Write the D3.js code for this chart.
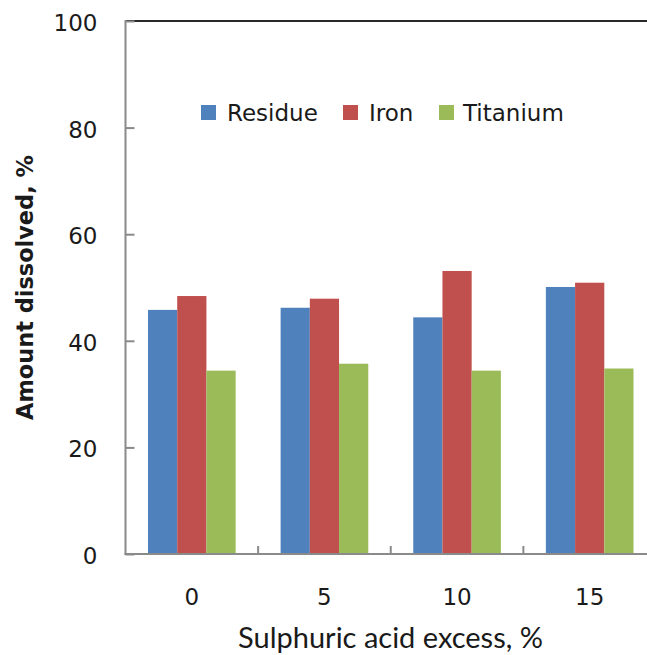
<!DOCTYPE html>
<html>
<head>
<meta charset="utf-8">
<script src="https://cdn.jsdelivr.net/npm/d3@7"></script>
<style>
  html, body { margin: 0; padding: 0; background: #fff; }
  svg { display: block; }
</style>
</head>
<body>
<svg id="chart" width="647" height="655"></svg>
<script>
// Sulphuric acid excess levels (x categories)
const categories = ["0", "5", "10", "15"];
// Series of dissolved amounts, %
const seriesNames = ["Residue", "Iron", "Titanium"];
const residue  = [45.8, 46.2, 44.4, 50.1];
const iron     = [48.4, 47.9, 53.1, 50.9];
const titanium = [34.4, 35.7, 34.4, 34.8];
const yTicks = [0, 20, 40, 60, 80, 100];

const seriesValues = [residue, iron, titanium];
const colors = ["#4F81BD", "#C0504D", "#9BBB59"];

const svg = d3.select("#chart");
const plot = { left: 125.5, top: 21, right: 656, bottom: 554 };

const x = d3.scaleBand().domain(categories).range([plot.left, plot.right]).padding(0);
const xSub = d3.scaleBand().domain(seriesNames).range([0, x.bandwidth()])
  .paddingInner(0).paddingOuter(0.77);
const y = d3.scaleLinear().domain([0, 100]).range([plot.bottom, plot.top]);

const axisGray = "#8a8a8a";
const textColor = "#1a1a1a";
const font = "'DejaVu Sans', Verdana, sans-serif";

// Plot-area frame (top and right edges)
svg.append("path")
  .attr("d", `M${plot.left},${plot.top}H${plot.right}V${plot.bottom}`)
  .attr("fill", "none").attr("stroke", "#2a2a2a").attr("stroke-width", 2);

// Bars
const groups = svg.append("g").selectAll("g")
  .data(categories)
  .join("g")
  .attr("transform", d => `translate(${x(d)},0)`);

groups.selectAll("rect")
  .data((c, i) => seriesNames.map((s, k) => ({ s, k, v: seriesValues[k][i] })))
  .join("rect")
  .attr("x", d => xSub(d.s))
  .attr("width", xSub.bandwidth())
  .attr("y", d => y(d.v))
  .attr("height", d => y(0) - y(d.v))
  .attr("fill", d => colors[d.k]);

// Y axis (ticks pointing inward)
const yAxis = svg.append("g")
  .attr("transform", `translate(${plot.left},0)`)
  .call(d3.axisRight(y).tickValues(yTicks).tickSize(9).tickFormat(""));
yAxis.select(".domain").remove();
yAxis.selectAll(".tick line").attr("stroke", axisGray).attr("stroke-width", 2);
svg.append("line")
  .attr("x1", plot.left).attr("x2", plot.left)
  .attr("y1", plot.top - 1).attr("y2", plot.bottom + 1)
  .attr("stroke", axisGray).attr("stroke-width", 2);

svg.append("g").selectAll("text")
  .data(yTicks)
  .join("text")
  .attr("x", plot.left - 28)
  .attr("y", d => y(d) + 2)
  .attr("text-anchor", "end")
  .attr("dominant-baseline", "central")
  .attr("font-family", font)
  .attr("font-size", 23)
  .attr("fill", textColor)
  .text(d => d);

// X axis (category boundary ticks pointing up)
const boundaries = categories.slice(1).map(c => x(c)).concat([plot.right]);
svg.append("g").selectAll("line")
  .data(boundaries)
  .join("line")
  .attr("x1", d => d).attr("x2", d => d)
  .attr("y1", plot.bottom).attr("y2", plot.bottom - 8)
  .attr("stroke", axisGray).attr("stroke-width", 2);
svg.append("line")
  .attr("x1", plot.left - 1).attr("x2", plot.right)
  .attr("y1", plot.bottom).attr("y2", plot.bottom)
  .attr("stroke", axisGray).attr("stroke-width", 2);

svg.append("g").selectAll("text")
  .data(categories)
  .join("text")
  .attr("x", d => x(d) + x.bandwidth() / 2)
  .attr("y", 597)
  .attr("text-anchor", "middle")
  .attr("dominant-baseline", "central")
  .attr("font-family", font)
  .attr("font-size", 23)
  .attr("fill", textColor)
  .text(d => d);

// Fit a text element's font size to a target width
function fitWidth(sel, target, startSize) {
  sel.attr("font-size", startSize);
  const w = sel.node().getComputedTextLength();
  if (w > 0) sel.attr("font-size", startSize * target / w);
}

// Axis titles
const xTitle = svg.append("text")
  .attr("x", 390.5)
  .attr("y", 648)
  .attr("text-anchor", "middle")
  .attr("font-family", "Lato, 'Open Sans', sans-serif")
  .attr("fill", textColor)
  .text("Sulphuric acid excess, %");
fitWidth(xTitle, 305, 24);

const yTitle = svg.append("text")
  .attr("transform", "translate(25,287.5) rotate(-90)")
  .attr("text-anchor", "middle")
  .attr("dominant-baseline", "central")
  .attr("font-family", font)
  .attr("font-weight", "bold")
  .attr("fill", textColor)
  .text("Amount dissolved, %");
fitWidth(yTitle, 265, 20);

// Legend
const legendItems = [
  { name: "Residue", sx: 201, tx: 227 },
  { name: "Iron", sx: 343, tx: 369 },
  { name: "Titanium", sx: 439, tx: 463 }
];
const legend = svg.append("g");
legend.selectAll("rect")
  .data(legendItems)
  .join("rect")
  .attr("x", d => d.sx).attr("y", 105)
  .attr("width", 15).attr("height", 15)
  .attr("fill", (d, i) => colors[i]);
legend.selectAll("text")
  .data(legendItems)
  .join("text")
  .attr("x", d => d.tx).attr("y", 113)
  .attr("dominant-baseline", "central")
  .attr("font-family", font)
  .attr("font-size", 23)
  .attr("fill", textColor)
  .text(d => d.name);
</script>
</body>
</html>
